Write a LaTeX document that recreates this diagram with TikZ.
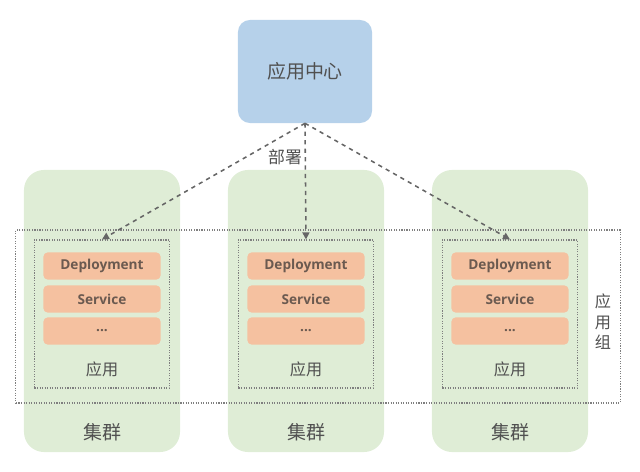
\documentclass[tikz,border=0pt]{standalone}
\usepackage{fontspec}
\setmainfont{Open Sans}
\newfontfamily\cjk{Noto Sans CJK SC}
\usetikzlibrary{arrows.meta}
\definecolor{centerblue}{HTML}{B6D1EA}
\definecolor{clustergreen}{HTML}{DFEDD6}
\definecolor{resorange}{HTML}{F5C1A0}
\definecolor{labelgray}{HTML}{505050}
\definecolor{restext}{HTML}{6B5A50}
\definecolor{linegray}{HTML}{7F7F7F}
\tikzset{
  cluster/.style={fill=clustergreen,rounded corners=0.5cm,minimum width=3.9cm,minimum height=7.05cm},
  appbox/.style={draw=linegray,densely dotted,line width=0.8pt,minimum width=3.375cm,minimum height=3.7cm},
  resbox/.style={fill=resorange,rounded corners=0.1cm,minimum width=2.925cm,minimum height=0.675cm,
    text=restext,font=\bfseries\fontsize{9.7}{11}\selectfont},
  deploy/.style={draw=linegray!80!black,dashed,line width=1.1pt,-{Triangle[length=5pt,width=5pt]}},
  cnlabel/.style={text=labelgray,font=\cjk\fontsize{#1}{#1}\selectfont},
  cnlabel/.default=11
}
\begin{document}
\begin{tikzpicture}[x=0.025cm,y=-0.025cm]
\useasboundingbox (0,0) rectangle (640,472);
\node[fill=centerblue,rounded corners=0.3cm,minimum width=3.35cm,minimum height=2.575cm] (center) at (305,71.5) {};
\node[cnlabel=13.5] at (center) {应用中心};

\foreach \name/\x in {left/102,mid/306,right/510}{
  \node[cluster] (cl\name) at (\x,311) {};
  \node[cnlabel=13.5] (cllabel\name) at (\x,432) {集群};
}

\node[draw=linegray,densely dotted,line width=0.8pt,minimum width=15.1cm,minimum height=4.325cm] (group) at (318,316.5) {};
\node[cnlabel=11.5,align=center,inner sep=0pt] (grouplabel) at (603,322) {应\\[3pt]用\\[3pt]组};

\foreach \name/\x in {left/102,mid/306,right/510}{
  \node[appbox] (app\name) at (\x,314) {};
  \node[resbox] (dep\name) at (\x,266) {Deployment};
  \node[resbox] (svc\name) at (\x,299) {Service};
  \node[resbox] (etc\name) at (\x,331) {...};
  \node[cnlabel=11.5] (applabel\name) at (\x,369) {应用};
}

\draw[deploy] (center.south) -- (appleft.north);
\draw[deploy] (center.south) -- (appmid.north);
\draw[deploy] (center.south) -- (appright.north);
\node[cnlabel=12] (deploylabel) at (285,157) {部署};
\end{tikzpicture}
\end{document}
